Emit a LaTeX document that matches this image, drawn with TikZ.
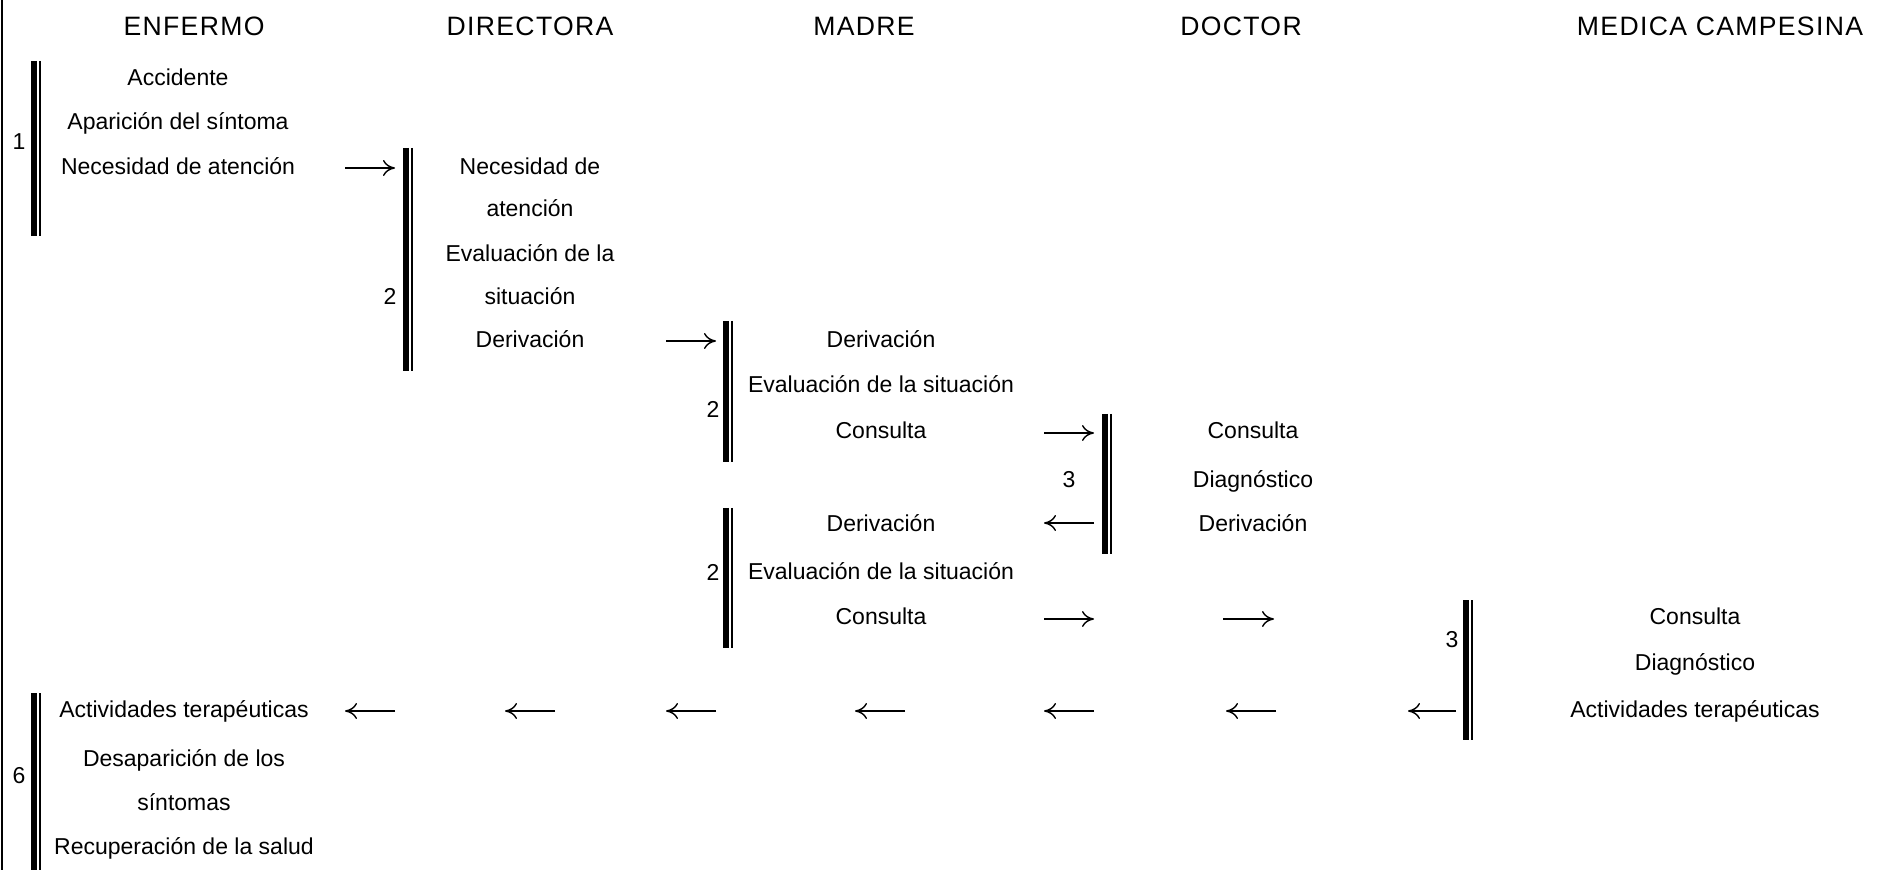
\documentclass[tikz,border=0pt]{standalone}
\usepackage{fontspec}
\setmainfont{Liberation Sans}
\newfontfamily\cabecera[LetterSpace=5]{Liberation Sans}
\usetikzlibrary{arrows.meta}

\begin{document}
\begin{tikzpicture}[x=0.5pt, y=-0.5pt,
t/.style={inner sep=0pt, text height=8.3pt, text depth=0pt, font=\fontsize{11.5}{13}\selectfont},
h/.style={inner sep=0pt, text height=9.5pt, text depth=0pt, font=\cabecera\fontsize{13.3}{15}\selectfont},
gruesa/.style={line width=3pt},
fina/.style={line width=1pt},
flecha/.style={-{To[length=6pt,width=8pt]}, line width=0.7pt}]
\useasboundingbox (0,0) rectangle (1877,870);
\draw[fina] (1.5,0) -- (1.5,870);

% cabeceras
\node[h] (enfermo) at (194,26) {ENFERMO};
\node[h] (directora) at (530,26) {DIRECTORA};
\node[h] (madre) at (864,26) {MADRE};
\node[h] (doctor) at (1241,26) {DOCTOR};
\node[h] (medica) at (1720,26) {MEDICA CAMPESINA};

% barras dobles
\foreach \x/\ya/\yb in {31/61/236, 403/148/371, 723/321/462, 1102/414/554,
  723/508/648, 1463/600/740, 31/693/870} {
  \draw[gruesa] (\x+3,\ya) -- (\x+3,\yb);
  \draw[fina] (\x+9,\ya) -- (\x+9,\yb);
}

% numeros
\node[t] (n1) at (19,141) {1};
\node[t] (n2) at (390,296) {2};
\node[t] (n3) at (713,409) {2};
\node[t] (n4) at (1069,479) {3};
\node[t] (n5) at (713,572) {2};
\node[t] (n6) at (1452,639) {3};
\node[t] (n7) at (19,775) {6};

% enfermo
\node[t] (acc) at (178,77) {Accidente};
\node[t] (apa) at (178,121) {Aparición del síntoma};
\node[t] (nec) at (178,166) {Necesidad de atención};

% directora
\node[t] (dnec) at (530,166) {Necesidad de};
\node[t] (date) at (530,208) {atención};
\node[t] (deva) at (530,253) {Evaluación de la};
\node[t] (dsit) at (530,296) {situación};
\node[t] (dder) at (530,339) {Derivación};

% madre
\node[t] (mder) at (881,339) {Derivación};
\node[t] (meva) at (881,384) {Evaluación de la situación};
\node[t] (mcon) at (881,430) {Consulta};

% doctor
\node[t] (ocon) at (1253,430) {Consulta};
\node[t] (odia) at (1253,479) {Diagnóstico};
\node[t] (oder) at (1253,523) {Derivación};

% madre otra vez
\node[t] (mder2) at (881,523) {Derivación};
\node[t] (meva2) at (881,571) {Evaluación de la situación};
\node[t] (mcon2) at (881,616) {Consulta};

% medica campesina
\node[t] (ccon) at (1695,616) {Consulta};
\node[t] (cdia) at (1695,662) {Diagnóstico};
\node[t] (cact) at (1695,709) {Actividades terapéuticas};

% enfermo al final
\node[t] (eact) at (184,709) {Actividades terapéuticas};
\node[t] (edes) at (184,758) {Desaparición de los};
\node[t] (esin) at (184,802) {síntomas};
\node[t] (erec) at (184,846) {Recuperación de la salud};

% flechas
\foreach \n/\xa/\xb/\y in {1/345/395/168, 2/666/716/341, 3/1044/1094/433,
  4/1094/1044/523, 5/1044/1094/619, 6/1223/1274/619,
  7/1456/1408/711, 8/1276/1226/711, 9/1094/1044/711, 10/905/855/711,
  11/716/666/711, 12/555/505/711, 13/395/345/711} {
  \coordinate (f\n a) at (\xa,\y);
  \coordinate (f\n b) at (\xb,\y);
  \draw[flecha] (f\n a) -- (f\n b);
}
\end{tikzpicture}
\end{document}
